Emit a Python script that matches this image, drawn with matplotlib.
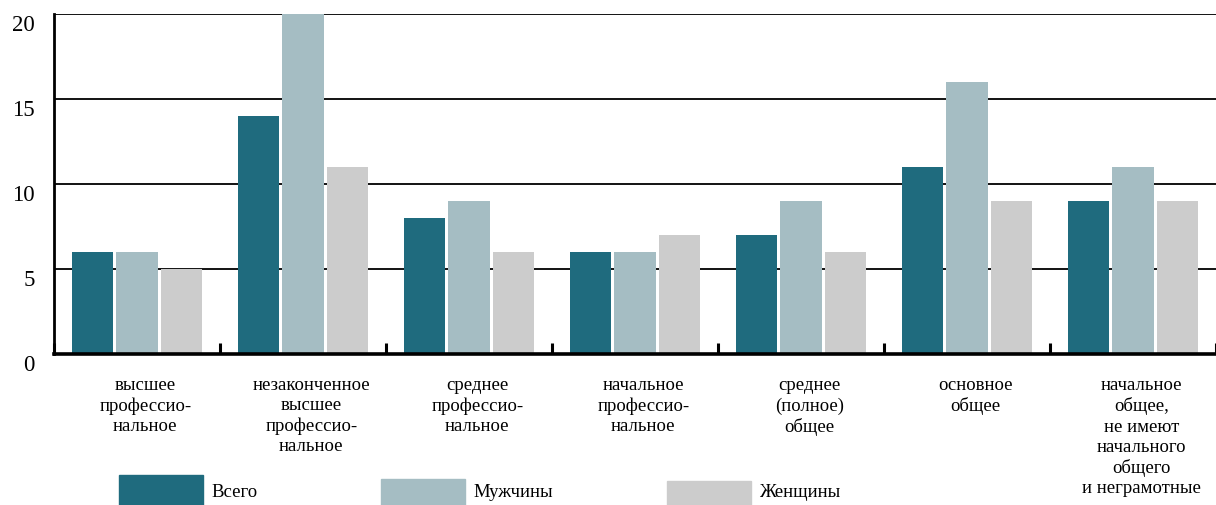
import numpy as np
import matplotlib.pyplot as plt
from matplotlib.patches import Rectangle
from matplotlib.transforms import ScaledTranslation

# ==========================================
# DATA
# ==========================================
categories = [
    "высшее\nпрофессио-\nнальное",
    "незаконченное\nвысшее\nпрофессио-\nнальное",
    "среднее\nпрофессио-\nнальное",
    "начальное\nпрофессио-\nнальное",
    "среднее\n(полное)\nобщее",
    "основное\nобщее",
    "начальное\nобщее,\nне имеют\nначального\nобщего\nи неграмотные",
]
total = [6, 14, 8, 6, 7, 11, 9]
men = [6, 20, 9, 6, 9, 16, 11]
women = [5, 11, 6, 7, 6, 9, 9]

series_names = ["Всего", "Мужчины", "Женщины"]
series_values = [total, men, women]
colors = ["#1f6b7e", "#a5bdc3", "#cccccc"]

yticks = [0, 5, 10, 15, 20]

# ==========================================
# FIGURE
# ==========================================
plt.rcParams['font.family'] = ['Liberation Serif', 'DejaVu Serif']

W, H = 1216, 506
fig = plt.figure(figsize=(W / 100, H / 100), dpi=100)
ax = fig.add_axes([54 / W, 1 - 355 / H, 1 - 54 / W, (355 - 15) / H])

x = np.arange(len(categories))
width = 0.247
step = 0.27
for k, (vals, col) in enumerate(zip(series_values, colors)):
    ax.bar(x + (k - 1) * step, vals, width=width, color=col, zorder=3)

ax.set_xlim(-0.5, len(categories) - 0.5)
ax.set_ylim(0, 20)

# horizontal grid lines
ax.set_yticks(yticks)
ax.grid(axis='y', color='black', linewidth=1.3, zorder=0)
ax.set_axisbelow(True)

for s in ['top', 'right']:
    ax.spines[s].set_visible(False)
ax.spines['left'].set_linewidth(2.0)
ax.spines['bottom'].set_linewidth(2.6)
ax.spines['bottom'].set_zorder(4)

# y tick labels, slightly shifted downward
ax.tick_params(axis='y', length=0, pad=14, labelsize=16.5)
offset = ScaledTranslation(0, -8 / 100, fig.dpi_scale_trans)
for lab in ax.get_yticklabels():
    lab.set_transform(lab.get_transform() + offset)

# group separator ticks pointing inward
ax.set_xticks(np.arange(-0.5, len(categories) + 0.5, 1.0))
ax.tick_params(axis='x', direction='in', length=8, width=2.2,
               labelbottom=False)

# category labels
for i, name in enumerate(categories):
    ax.text(i + 0.05, -0.065, name, transform=ax.get_xaxis_transform(),
            ha='center', va='top', fontsize=13.5, linespacing=1.24)

# legend (manual blocks)
leg_x = [119, 381, 667]
leg_y = [476, 480, 482]
for name, col, lx, ly in zip(series_names, colors, leg_x, leg_y):
    fig.patches.append(Rectangle((lx / W, 1 - (ly + 32) / H), 84 / W, 32 / H,
                                 transform=fig.transFigure, color=col))
    fig.text((lx + 92) / W, 1 - 493 / H, name, fontsize=13.5,
             ha='left', va='center')

fig.savefig("out.png", dpi=100)
